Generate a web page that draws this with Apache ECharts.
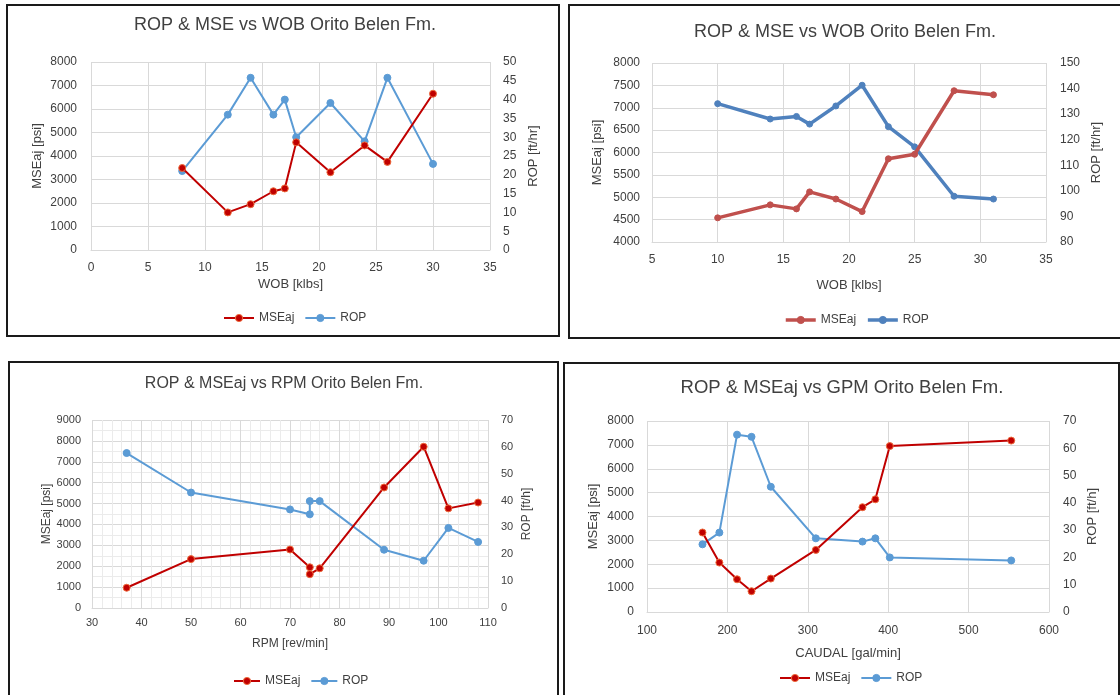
<!DOCTYPE html>
<html>
<head>
<meta charset="utf-8">
<script src="https://cdn.jsdelivr.net/npm/echarts@6/dist/echarts.min.js"></script>
<style>
  html, body { margin: 0; padding: 0; background: #ffffff; }
  #chart { width: 1120px; height: 695px; }
</style>
</head>
<body>
<div id="chart"></div>
<script>
// ---------- Data ----------
// Panel 1: ROP & MSE vs WOB (first dataset)
const wob1 = [8, 12, 14, 16, 17, 18, 21, 24, 26, 30];
const mse1 = [3490, 1600, 1950, 2500, 2620, 4580, 3310, 4450, 3750, 6650];
const rop1 = [21, 36, 45.8, 36, 40, 30, 39.1, 28.9, 45.8, 22.9];

// Panel 2: ROP & MSE vs WOB (second dataset)
const wob2 = [10, 14, 16, 17, 19, 21, 23, 25, 28, 31];
const mse2 = [4540, 4830, 4740, 5120, 4960, 4680, 5860, 5960, 7380, 7290];
const rop2 = [134.1, 128.1, 129.1, 126.1, 133.2, 141.3, 125.1, 117.2, 97.9, 96.8];

// Panel 3: ROP & MSEaj vs RPM
const rpm3 = [37, 50, 70, 74, 74, 76, 89, 97, 102, 108];
const mse3 = [970, 2340, 2800, 1950, 1620, 1900, 5770, 7720, 4770, 5050];
const rop3 = [57.7, 43.0, 36.7, 34.9, 39.8, 39.8, 21.7, 17.6, 29.8, 24.6];

// Panel 4: ROP & MSEaj vs GPM
const gpm4 = [169, 190, 212, 230, 254, 310, 368, 384, 402, 553];
const mse4 = [3330, 2070, 1370, 870, 1400, 2600, 4390, 4720, 6950, 7180];
const rop4 = [24.8, 29.1, 65.0, 64.2, 45.9, 27.0, 25.8, 27.0, 20.0, 18.9];

// Titles and axis names
const titles = [
  'ROP & MSE vs WOB Orito Belen Fm.',
  'ROP & MSE vs WOB Orito Belen Fm.',
  'ROP & MSEaj vs RPM Orito Belen Fm.',
  'ROP & MSEaj vs GPM Orito Belen Fm.'
];
const xNames = ['WOB [klbs]', 'WOB [klbs]', 'RPM [rev/min]', 'CAUDAL [gal/min]'];
const yLeftNames = ['MSEaj [psi]', 'MSEaj [psi]', 'MSEaj [psi]', 'MSEaj [psi]'];
const yRightNames = ['ROP [ft/hr]', 'ROP [ft/hr]', 'ROP [ft/h]', 'ROP [ft/h]'];
const seriesNames = ['MSEaj', 'ROP'];

// Axis ranges [min, max, interval]
const xRanges = [[0, 35, 5], [5, 35, 5], [30, 110, 10], [100, 600, 100]];
const yLeftRanges = [[0, 8000, 1000], [4000, 8000, 500], [0, 9000, 1000], [0, 8000, 1000]];
const yRightRanges = [[0, 50, 5], [80, 150, 10], [0, 70, 10], [0, 70, 10]];

// ---------- Helpers ----------
function pairs(xs, ys) { return xs.map((x, i) => [x, ys[i]]); }
const plain = v => String(v);

const FONT = 'Liberation Sans, Arial, sans-serif';
const LABEL = '#404040';
const GRIDC = '#D9D9D9';

// layout per panel
const grids = [
  { left: 91, top: 62, width: 399, height: 188 },
  { left: 652, top: 63, width: 394, height: 179 },
  { left: 92, top: 420, width: 396, height: 188 },
  { left: 647, top: 421, width: 402, height: 191 }
];
const titlePos = [
  { x: 285, y: 25, size: 18 },
  { x: 845, y: 32, size: 18 },
  { x: 284, y: 384, size: 16 },
  { x: 842, y: 388, size: 18.5 }
];
const xLabelMargin = [12, 12, 9, 13];
const xNameGap = [28, 37, 30, 35];
const yLMargin = [14, 12, 11, 13];
const yRMargin = [13, 14, 13, 14];
const yLNameGap = [47, 48, 39, 47];
const yRNameGap = [37, 44, 33, 37];
const tickFont = [12, 12, 11, 12];
const nameFont = [13, 13, 12, 13];
const legendPos = [
  { left: 218, top: 307 },
  { left: 779, top: 309 },
  { left: 228, top: 670 },
  { left: 774, top: 667 }
];
const borders = [
  { x: 7, y: 5, width: 552, height: 331 },
  { x: 569, y: 5, width: 560, height: 333 },
  { x: 9, y: 362, width: 549, height: 345 },
  { x: 564, y: 363, width: 555, height: 345 }
];

const styles = [
  { mse: '#C00000', mseB: '#EE6A3C', rop: '#5B9BD5', ropB: '#5B9BD5', w: 2, s: 7 },
  { mse: '#C0504D', mseB: '#C0504D', rop: '#4F81BD', ropB: '#4F81BD', w: 3.5, s: 6 },
  { mse: '#C00000', mseB: '#EE6A3C', rop: '#5B9BD5', ropB: '#5B9BD5', w: 2, s: 7 },
  { mse: '#C00000', mseB: '#EE6A3C', rop: '#5B9BD5', ropB: '#5B9BD5', w: 2, s: 7 }
];

const xData = [wob1, wob2, rpm3, gpm4];
const mseData = [mse1, mse2, mse3, mse4];
const ropData = [rop1, rop2, rop3, rop4];

const option = {
  animation: false,
  backgroundColor: '#ffffff',
  textStyle: { fontFamily: FONT },
  grid: grids.map(g => Object.assign({ containLabel: false }, g)),
  title: [],
  legend: [],
  xAxis: [],
  yAxis: [],
  series: [],
  graphic: []
};

for (let i = 0; i < 4; i++) {
  const st = styles[i];
  option.xAxis.push({
    type: 'value', gridIndex: i,
    min: xRanges[i][0], max: xRanges[i][1], interval: xRanges[i][2],
    name: xNames[i], nameLocation: 'middle', nameGap: xNameGap[i],
    nameTextStyle: { color: LABEL, fontSize: nameFont[i], fontFamily: FONT },
    axisLine: { show: true, lineStyle: { color: GRIDC, width: 1 } },
    axisTick: { show: false },
    axisLabel: { color: LABEL, fontSize: tickFont[i], margin: xLabelMargin[i], fontFamily: FONT, formatter: plain },
    splitLine: { show: true, lineStyle: { color: GRIDC, width: 1 } },
    minorTick: { show: false, splitNumber: 5 },
    minorSplitLine: { show: i === 2, lineStyle: { color: '#EBEBEB', width: 1 } }
  });
  option.yAxis.push({
    type: 'value', gridIndex: i, position: 'left',
    min: yLeftRanges[i][0], max: yLeftRanges[i][1], interval: yLeftRanges[i][2],
    name: yLeftNames[i], nameLocation: 'middle', nameGap: yLNameGap[i],
    nameTextStyle: { color: LABEL, fontSize: nameFont[i], fontFamily: FONT },
    axisLine: { show: false },
    axisTick: { show: false },
    axisLabel: { color: LABEL, fontSize: tickFont[i], margin: yLMargin[i], fontFamily: FONT, formatter: plain },
    splitLine: { show: true, lineStyle: { color: GRIDC, width: 1 } },
    minorTick: { show: false, splitNumber: 2 },
    minorSplitLine: { show: i === 2, lineStyle: { color: '#EBEBEB', width: 1 } }
  });
  option.yAxis.push({
    type: 'value', gridIndex: i, position: 'right',
    min: yRightRanges[i][0], max: yRightRanges[i][1], interval: yRightRanges[i][2],
    name: yRightNames[i], nameLocation: 'middle', nameGap: yRNameGap[i],
    nameTextStyle: { color: LABEL, fontSize: nameFont[i], fontFamily: FONT },
    axisLine: { show: false },
    axisTick: { show: false },
    axisLabel: { color: LABEL, fontSize: tickFont[i], margin: yRMargin[i], fontFamily: FONT, formatter: plain },
    splitLine: { show: false }
  });
  option.series.push({
    name: seriesNames[0], type: 'line', xAxisIndex: i, yAxisIndex: i * 2,
    data: pairs(xData[i], mseData[i]),
    symbol: 'circle', symbolSize: st.s,
    lineStyle: { color: st.mse, width: st.w },
    itemStyle: { color: st.mse, borderColor: st.mseB, borderWidth: 1 },
    z: 3
  });
  option.series.push({
    name: seriesNames[1], type: 'line', xAxisIndex: i, yAxisIndex: i * 2 + 1,
    data: pairs(xData[i], ropData[i]),
    symbol: 'circle', symbolSize: st.s,
    lineStyle: { color: st.rop, width: st.w },
    itemStyle: { color: st.rop, borderColor: st.ropB, borderWidth: 1 },
    z: 2
  });
  option.legend.push({
    left: legendPos[i].left, top: legendPos[i].top,
    orient: 'horizontal',
    itemWidth: i === 2 ? 26 : 30, itemHeight: 9, itemGap: 10,
    textStyle: { color: LABEL, fontSize: 12, fontFamily: FONT },
    selectedMode: false,
    data: [
      { name: seriesNames[0], itemStyle: { color: st.mse, borderColor: st.mseB, borderWidth: 1 }, lineStyle: { color: st.mse, width: st.w } },
      { name: seriesNames[1], itemStyle: { color: st.rop, borderColor: st.ropB, borderWidth: 1 }, lineStyle: { color: st.rop, width: st.w } }
    ]
  });
  option.graphic.push({
    type: 'text', silent: true,
    x: titlePos[i].x, y: titlePos[i].y,
    style: {
      text: titles[i], fill: '#404040',
      font: titlePos[i].size + 'px ' + FONT,
      textAlign: 'center', textVerticalAlign: 'middle'
    }
  });
  option.graphic.push({
    type: 'rect', silent: true,
    shape: borders[i],
    style: { fill: 'none', stroke: '#1a1a1a', lineWidth: 2 }
  });
}

const chart = echarts.init(document.getElementById('chart'), null, { renderer: 'canvas' });
chart.setOption(option);
</script>
</body>
</html>
